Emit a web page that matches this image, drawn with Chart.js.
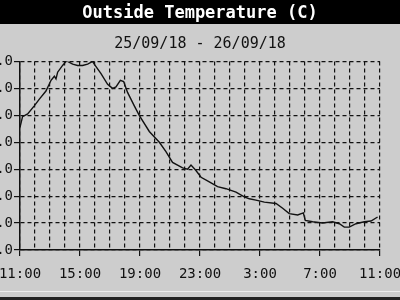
<!DOCTYPE html>
<html>
<head>
<meta charset="utf-8">
<script src="https://cdn.jsdelivr.net/npm/chart.js@4"></script>
<style>
  html, body { margin: 0; padding: 0; }
  body { width: 400px; height: 300px; overflow: hidden; position: relative; background: #cdcdcd; }
  #wrap { position: absolute; left: -25px; top: 0; width: 450px; height: 290px; }
  #hl { position: absolute; left: 0; top: 291px; width: 400px; height: 1px; background: #ececec; }
  #foot { position: absolute; left: 0; top: 297px; width: 400px; height: 3px; background: #222; }
</style>
</head>
<body>
<div id="wrap"><canvas id="temp"></canvas></div>
<div id="hl"></div>
<div id="foot"></div>
<script>
const titleText = 'Outside Temperature (C)'
const dateRange = '25/09/18 - 26/09/18'
// hours after 11:00 on 25/09
const hours = [0, 0.17, 0.51, 0.95, 1.29, 1.73, 2.07, 2.29, 2.4, 2.51, 2.84, 3.07, 3.17, 3.51, 3.84, 4.17, 4.51, 4.84, 4.95,
    5.4, 5.84, 6.17, 6.4, 6.69, 6.91, 7.17, 7.62, 7.95, 8.62, 9.29, 9.73, 10.17, 10.84, 11.17, 11.4, 11.73, 12.07,
    12.62, 13.17, 13.73, 14.4, 14.95, 15.29, 15.73, 16.29, 17.07, 17.51, 17.95, 18.51, 18.89, 19.02, 19.51, 20.17,
    20.84, 21.29, 21.62, 21.95, 22.4, 22.95, 23.4, 23.84]
const temps = [15.1, 15.9, 16.1, 16.7, 17.2, 17.8, 18.6, 18.9, 18.7, 19.2, 19.7, 20.0, 20.0, 19.8, 19.7, 19.7, 19.8, 20.0, 19.8,
    19.1, 18.3, 18.0, 18.1, 18.6, 18.5, 17.7, 16.7, 16.0, 14.8, 14.0, 13.3, 12.5, 12.1, 12.0, 12.3, 11.9, 11.4,
    11.05, 10.7, 10.55, 10.3, 9.95, 9.8, 9.7, 9.55, 9.45, 9.1, 8.7, 8.6, 8.75, 8.2, 8.1, 8.0,
    8.1, 7.95, 7.7, 7.7, 7.95, 8.1, 8.15, 8.45]
const xTickLabels = ['11:00', '15:00', '19:00', '23:00', '3:00', '7:00', '11:00']
const yMin = 6
const yMax = 20
const yStep = 2

const points = hours.map((h, i) => ({ x: h, y: temps[i] }))

const titleBar = {
    id: 'titleBar',
    beforeDraw(chart) {
        const c = chart.ctx
        c.save()
        c.fillStyle = '#000'
        c.fillRect(0, 0, chart.width, 24)
        c.restore()
    }
}

const ctx = document.getElementById('temp')
const chart = new Chart(ctx, {
    type: 'line',
    data: {
        datasets: [{
            label: 'Outside',
            data: points,
            borderColor: '#111',
            borderWidth: 1.4,
            pointRadius: 0,
            tension: 0,
            fill: false
        }]
    },
    options: {
        responsive: true,
        maintainAspectRatio: false,
        animation: false,
        layout: { padding: 0 },
        plugins: {
            legend: { display: false },
            tooltip: { enabled: false },
            title: {
                display: true,
                text: titleText,
                color: '#fff',
                font: { family: 'DejaVu Sans Mono', size: 17, weight: 'bold', lineHeight: 1.2 },
                padding: { top: 3, bottom: 3 }
            },
            subtitle: {
                display: true,
                text: dateRange,
                color: '#111',
                font: { family: 'DejaVu Sans Mono', size: 15, lineHeight: 1.2 },
                padding: { top: 9, bottom: 8 }
            }
        },
        scales: {
            x: {
                type: 'linear',
                min: 0,
                max: 24,
                afterFit(scale) { scale.height = 40 },
                ticks: {
                    stepSize: 1,
                    autoSkip: false,
                    maxRotation: 0,
                    padding: 10,
                    color: '#111',
                    font: { family: 'DejaVu Sans Mono', size: 14 },
                    callback: v => (v % 4 === 0 ? xTickLabels[v / 4] : '')
                },
                grid: {
                    color: '#111',
                    lineWidth: 1.2,
                    tickLength: 6,
                    tickColor: c => (c.tick && c.tick.value % 4 === 0 ? '#111' : 'rgba(0,0,0,0)')
                },
                border: { display: true, color: '#111', width: 1.5, dash: [4, 3] }
            },
            y: {
                min: yMin,
                max: yMax,
                afterFit(scale) { scale.width = 45 },
                ticks: {
                    stepSize: yStep,
                    padding: 1,
                    color: '#111',
                    font: { family: 'DejaVu Sans Mono', size: 14 },
                    callback: v => v.toFixed(1)
                },
                grid: {
                    color: '#111',
                    lineWidth: 1.2,
                    tickLength: 6,
                    tickColor: '#111'
                },
                border: { display: true, color: '#111', width: 1.5, dash: [4, 3] }
            },
            // empty right axis so the plot stays centred under the titles
            yRight: {
                position: 'right',
                min: yMin,
                max: yMax,
                afterFit(scale) { scale.width = 45 },
                ticks: { display: false },
                grid: { display: false },
                border: { display: false }
            }
        }
    },
    plugins: [titleBar]
})
</script>
</body>
</html>
